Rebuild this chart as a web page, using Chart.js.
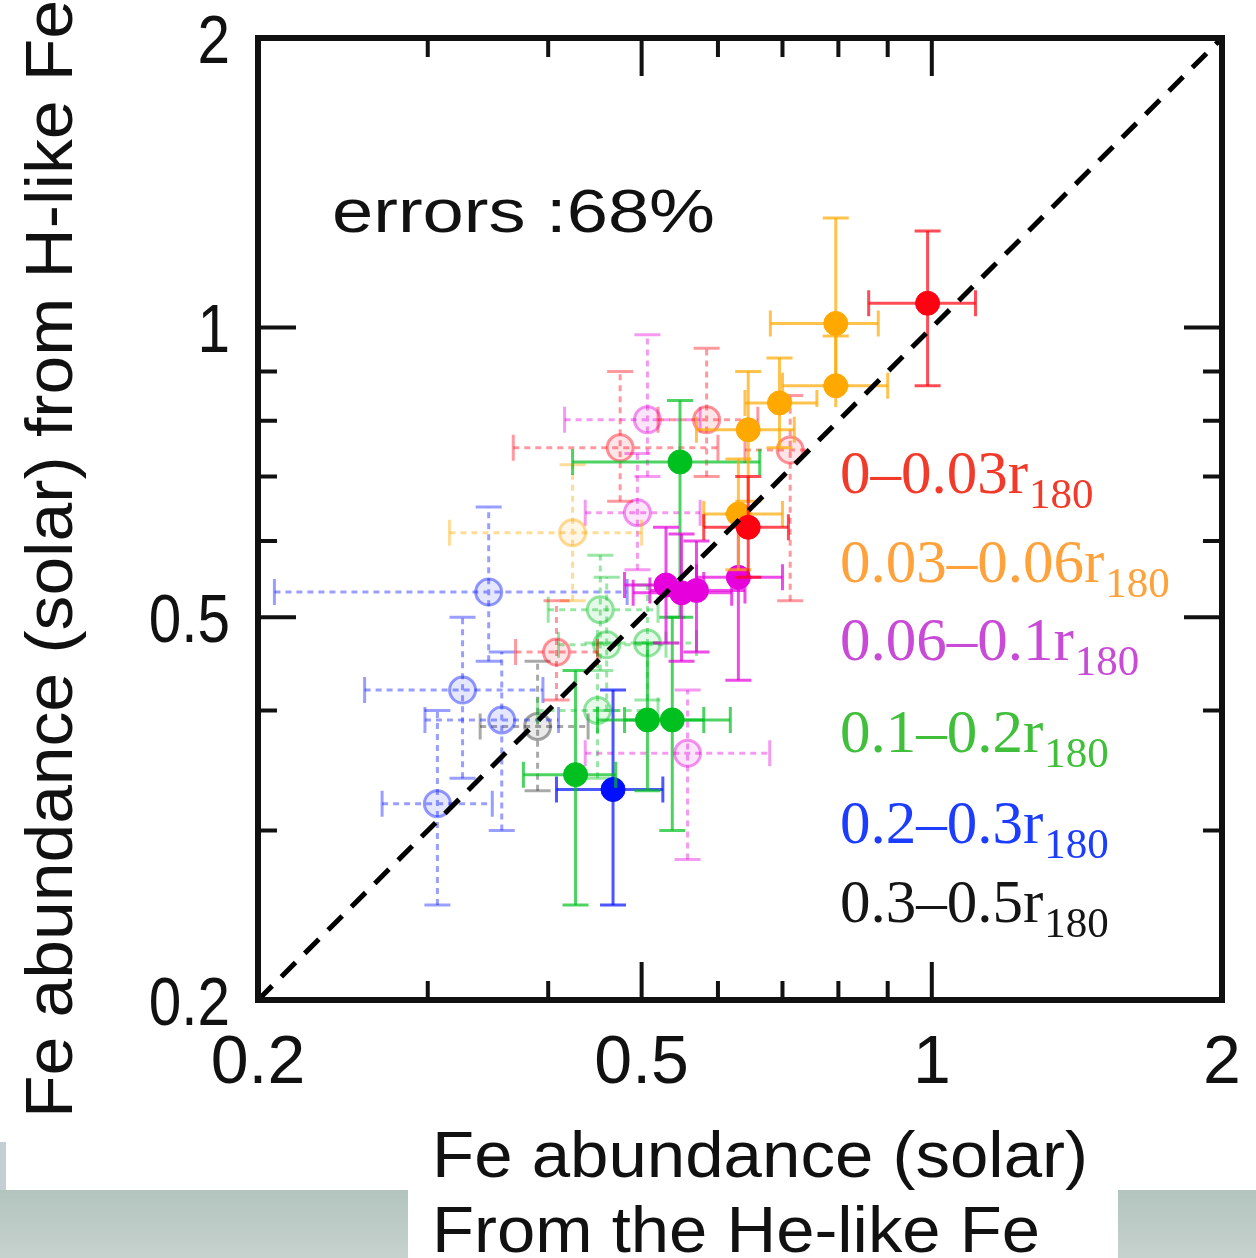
<!DOCTYPE html>
<html>
<head>
<meta charset="utf-8">
<script src="https://cdn.jsdelivr.net/npm/chart.js@4.4.1/dist/chart.umd.min.js"></script>
<style>
  html, body { margin: 0; padding: 0; background: #fff; }
  #wrap { position: relative; width: 1256px; height: 1258px; }
</style>
</head>
<body>
<div id="wrap"><canvas id="fe-chart" width="1256" height="1258"></canvas></div>
<script>
// each row: [x, y, xLow, xHigh, yLow, yHigh]  (Fe abundance in solar units)
// x = from He-like Fe, y = from H-like Fe
const redSolid = [
  [0.99, 1.06, 0.86, 1.11, 0.87, 1.26],
  [0.645, 0.62, 0.58, 0.71, 0.55, 0.70],
];
const orangeSolid = [
  [0.795, 1.01, 0.68, 0.88, 0.87, 1.30],
  [0.795, 0.87, 0.70, 0.90, 0.78, 0.98],
  [0.695, 0.835, 0.64, 0.76, 0.75, 0.93],
  [0.645, 0.783, 0.57, 0.72, 0.66, 0.90],
  [0.63, 0.64, 0.58, 0.70, 0.56, 0.73],
];
const magentaSolid = [
  [0.53, 0.54, 0.48, 0.58, 0.47, 0.62],
  [0.55, 0.53, 0.49, 0.62, 0.45, 0.61],
  [0.57, 0.533, 0.51, 0.64, 0.46, 0.60],
  [0.63, 0.55, 0.57, 0.70, 0.43, 0.64],
];
const greenSolid = [
  [0.548, 0.725, 0.424, 0.663, 0.50, 0.84],
  [0.507, 0.391, 0.45, 0.58, 0.33, 0.47],
  [0.538, 0.391, 0.48, 0.618, 0.30, 0.50],
  [0.427, 0.343, 0.377, 0.47, 0.251, 0.44],
];
const blueSolid = [
  [0.467, 0.331, 0.408, 0.526, 0.251, 0.42],
];

const redOpen = [
  [0.475, 0.75, 0.368, 0.60, 0.66, 0.90],
  [0.584, 0.802, 0.52, 0.66, 0.70, 0.952],
  [0.408, 0.46, 0.37, 0.45, 0.41, 0.52],
  [0.713, 0.746, 0.64, 0.80, 0.52, 0.85],
];
const orangeOpen = [
  [0.424, 0.612, 0.316, 0.50, 0.52, 0.72],
];
const magentaOpen = [
  [0.507, 0.802, 0.416, 0.575, 0.70, 0.983],
  [0.495, 0.642, 0.437, 0.575, 0.56, 0.74],
  [0.558, 0.361, 0.437, 0.679, 0.28, 0.42],
];
const greenOpen = [
  [0.453, 0.509, 0.40, 0.52, 0.44, 0.58],
  [0.46, 0.468, 0.41, 0.53, 0.40, 0.55],
  [0.507, 0.47, 0.45, 0.57, 0.41, 0.54],
  [0.45, 0.40, 0.39, 0.52, 0.34, 0.47],
];
const blueOpen = [
  [0.347, 0.531, 0.208, 0.483, 0.45, 0.651],
  [0.326, 0.42, 0.258, 0.395, 0.34, 0.50],
  [0.358, 0.391, 0.298, 0.41, 0.30, 0.46],
  [0.307, 0.32, 0.269, 0.35, 0.251, 0.40],
];
const blackOpen = [
  [0.39, 0.385, 0.34, 0.44, 0.33, 0.45],
];

const majorTicks = [0.2, 0.5, 1, 2];
const minorTicks = [0.3, 0.4, 0.6, 0.7, 0.8, 0.9];
const tickLabels = ["0.2", "0.5", "1", "2"];
const oneToOne = [0.2, 2];

const groupLabels = ["0–0.03r", "0.03–0.06r", "0.06–0.1r", "0.1–0.2r", "0.2–0.3r", "0.3–0.5r"];
const groupSub = "180";
const groupTextColors = ["#f23a2a", "#ffa23c", "#c84ad6", "#3fbf3a", "#1c3cff", "#151515"];

// marker colours
const RED = "255,0,16";
const ORANGE = "255,168,0";
const MAGENTA = "230,0,220";
const GREEN = "0,192,32";
const BLUE = "0,16,255";
const BLACK = "40,40,40";

const toPoints = (rows) =>
  rows.map((r) => ({ x: r[0], y: r[1], xLo: r[2], xHi: r[3], yLo: r[4], yHi: r[5] }));

const solidSet = (rows, rgb) => ({
  data: toPoints(rows),
  pointRadius: 12,
  pointBackgroundColor: `rgb(${rgb})`,
  pointBorderColor: `rgb(${rgb})`,
  pointBorderWidth: 1,
  errColor: `rgba(${rgb},0.7)`,
  errDash: [],
});

const openSet = (rows, rgb) => ({
  data: toPoints(rows),
  pointRadius: 13,
  pointBackgroundColor: `rgba(${rgb},0.10)`,
  pointBorderColor: `rgba(${rgb},0.42)`,
  pointBorderWidth: 3,
  errColor: `rgba(${rgb},0.4)`,
  errDash: [6, 5],
});

// error bars under each scatter dataset
const errorBars = {
  id: "errorBars",
  beforeDatasetDraw(chart, args) {
    const ds = chart.data.datasets[args.index];
    if (!ds.errColor) return;
    const { ctx, scales } = chart;
    const xs = scales.x, ys = scales.y;
    const cap = 13;
    ctx.save();
    ctx.strokeStyle = ds.errColor;
    ctx.lineWidth = 3;
    ctx.setLineDash(ds.errDash);
    ds.data.forEach((p) => {
      const px = xs.getPixelForValue(p.x);
      const py = ys.getPixelForValue(p.y);
      const x0 = xs.getPixelForValue(p.xLo);
      const x1 = xs.getPixelForValue(p.xHi);
      const y0 = ys.getPixelForValue(p.yLo);
      const y1 = ys.getPixelForValue(p.yHi);
      ctx.beginPath();
      ctx.moveTo(x0, py); ctx.lineTo(x1, py);
      ctx.moveTo(px, y0); ctx.lineTo(px, y1);
      ctx.stroke();
      ctx.setLineDash([]);
      ctx.beginPath();
      ctx.moveTo(x0, py - cap); ctx.lineTo(x0, py + cap);
      ctx.moveTo(x1, py - cap); ctx.lineTo(x1, py + cap);
      ctx.moveTo(px - cap, y0); ctx.lineTo(px + cap, y0);
      ctx.moveTo(px - cap, y1); ctx.lineTo(px + cap, y1);
      ctx.stroke();
      ctx.setLineDash(ds.errDash);
    });
    ctx.restore();
  },
};

// white label box sits over the points but under the dashed 1:1 line
const labelBox = {
  id: "labelBox",
  beforeDatasetDraw(chart, args) {
    if (chart.data.datasets[args.index].id !== "diag") return;
    const { ctx } = chart;
    ctx.save();
    ctx.fillStyle = "#fff";
    ctx.fillRect(808, 407, 382, 538);
    const x0 = 840;
    const mainBase = [493, 582, 660, 752, 843, 922];
    groupLabels.forEach((t, i) => {
      ctx.fillStyle = groupTextColors[i];
      ctx.font = '61px "Liberation Serif", "DejaVu Serif", serif';
      ctx.textAlign = "left";
      ctx.textBaseline = "alphabetic";
      ctx.fillText(t, x0, mainBase[i]);
      const w = ctx.measureText(t).width;
      ctx.font = '43px "Liberation Serif", "DejaVu Serif", serif';
      ctx.fillText(groupSub, x0 + w + 1, mainBase[i] + 15);
    });
    ctx.restore();
  },
};

function fitText(ctx, text, x, y, width, size) {
  ctx.font = `${size}px "Liberation Sans", Arial, sans-serif`;
  const w = ctx.measureText(text).width;
  ctx.save();
  ctx.translate(x, y);
  ctx.scale(width / w, 1);
  ctx.fillText(text, 0, 0);
  ctx.restore();
}

const slideDecor = {
  id: "slideDecor",
  beforeDraw(chart) {
    const { ctx } = chart;
    ctx.save();
    ctx.fillStyle = "#fff";
    ctx.fillRect(0, 0, chart.width, chart.height);
    const g = ctx.createLinearGradient(0, 1190, 0, 1258);
    g.addColorStop(0, "#b3c4be");
    g.addColorStop(1, "#c6d2ce");
    ctx.fillStyle = g;
    ctx.fillRect(0, 1190, 408, 68);
    ctx.fillRect(1118, 1190, 138, 68);
    ctx.fillStyle = "#c3cfd2";
    ctx.fillRect(0, 1142, 6, 48);
    ctx.restore();
  },
  afterDraw(chart) {
    const { ctx, scales, chartArea: a } = chart;
    const xs = scales.x, ys = scales.y;
    ctx.save();
    ctx.strokeStyle = "#111";
    ctx.lineCap = "butt";
    // inward ticks on all four sides
    ctx.lineWidth = 4;
    const major = 38, minor = 19;
    [...majorTicks.slice(1, -1).map((v) => [v, major]), ...minorTicks.map((v) => [v, minor])].forEach(
      ([v, len]) => {
        const px = xs.getPixelForValue(v);
        const py = ys.getPixelForValue(v);
        ctx.beginPath();
        ctx.moveTo(px, a.bottom); ctx.lineTo(px, a.bottom - len);
        ctx.moveTo(px, a.top); ctx.lineTo(px, a.top + len);
        ctx.moveTo(a.left, py); ctx.lineTo(a.left + len, py);
        ctx.moveTo(a.right, py); ctx.lineTo(a.right - len, py);
        ctx.stroke();
      }
    );
    // frame
    ctx.lineWidth = 6;
    ctx.strokeRect(a.left, a.top, a.right - a.left, a.bottom - a.top);

    // tick labels
    ctx.fillStyle = "#111";
    ctx.font = '68px "Liberation Sans", Arial, sans-serif';
    ctx.textBaseline = "middle";
    ctx.textAlign = "right";
    majorTicks.forEach((v, i) => {
      const py = ys.getPixelForValue(v);
      ctx.save();
      ctx.translate(230, py + 6);
      ctx.scale(0.86, 1);
      ctx.fillText(tickLabels[i], 0, 0);
      ctx.restore();
    });
    ctx.textAlign = "center";
    ctx.textBaseline = "top";
    majorTicks.forEach((v, i) => {
      ctx.fillText(tickLabels[i], xs.getPixelForValue(v), 1030);
    });

    // axis titles and note
    ctx.textAlign = "left";
    ctx.textBaseline = "alphabetic";
    fitText(ctx, "Fe abundance (solar)", 432, 1177, 656, 64);
    fitText(ctx, "From the He-like Fe", 432, 1252, 608, 64);
    fitText(ctx, "errors :68%", 332, 232, 383, 62);
    ctx.save();
    ctx.translate(72, 1118);
    ctx.rotate(-Math.PI / 2);
    fitText(ctx, "Fe abundance (solar) from H-like Fe", 0, 0, 1118, 66);
    ctx.restore();
    ctx.restore();
  },
};

const ctx = document.getElementById("fe-chart");

new Chart(ctx, {
  type: "scatter",
  data: {
    datasets: [
      {
        id: "diag",
        type: "line",
        data: oneToOne.map((v) => ({ x: v, y: v })),
        borderColor: "#000",
        borderWidth: 5,
        borderDash: [20, 13],
        pointRadius: 0,
        fill: false,
      },
      solidSet(redSolid, RED),
      solidSet(orangeSolid, ORANGE),
      solidSet(magentaSolid, MAGENTA),
      solidSet(greenSolid, GREEN),
      solidSet(blueSolid, BLUE),
      openSet(redOpen, RED),
      openSet(orangeOpen, ORANGE),
      openSet(magentaOpen, MAGENTA),
      openSet(greenOpen, GREEN),
      openSet(blueOpen, BLUE),
      openSet(blackOpen, BLACK),
    ],
  },
  options: {
    responsive: false,
    animation: false,
    devicePixelRatio: 1,
    layout: { padding: { left: 0, top: 38, right: 34, bottom: 0 } },
    plugins: { legend: { display: false }, tooltip: { enabled: false } },
    scales: {
      x: {
        type: "logarithmic",
        min: 0.2,
        max: 2,
        grid: { display: false },
        border: { display: false },
        ticks: { display: false },
        afterFit: (s) => { s.height = 258; },
      },
      y: {
        type: "logarithmic",
        min: 0.2,
        max: 2,
        grid: { display: false },
        border: { display: false },
        ticks: { display: false },
        afterFit: (s) => { s.width = 258; },
      },
    },
  },
  plugins: [slideDecor, errorBars, labelBox],
});
</script>
</body>
</html>
